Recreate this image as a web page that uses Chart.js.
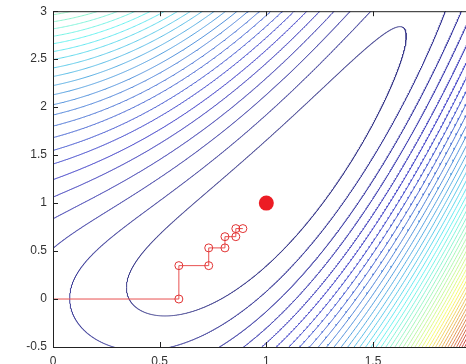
<!DOCTYPE html>
<html>
<head>
<meta charset="utf-8">
<script src="https://cdn.jsdelivr.net/npm/chart.js@4"></script>
<style>
  html, body { margin: 0; padding: 0; background: #fff; overflow: hidden; }
  #chart { display: block; margin-top: -2px; }
</style>
</head>
<body>
<canvas id="chart" width="490" height="366"></canvas>
<script>
// axis ticks
const xTicks = [0, 0.5, 1, 1.5, 2];
const yTicks = [-0.5, 0, 0.5, 1, 1.5, 2, 2.5, 3];

// contour levels of f(x,y) = (y - x^2)^2 + (1 - x)^2
const levels = [
  0.43, 0.85, 1.28, 1.70, 2.13, 2.55, 2.98, 3.40, 3.83, 4.25,
  4.68, 5.10, 5.53, 5.95, 6.38, 6.80, 7.23, 7.65, 8.08, 8.50,
  8.93, 9.35, 9.78, 10.20, 10.63, 11.05, 11.48, 11.90, 12.33, 12.75,
  13.18, 13.60, 14.03, 14.45, 14.88, 15.30, 15.73, 16.15, 16.58, 17.00,
  17.43, 17.85, 18.28, 18.70, 19.13, 19.55, 19.98, 20.40, 20.83
];
const levelMax = 21.25;

// coordinate descent path
const pathX = [0, 0.59, 0.59, 0.73, 0.73, 0.806, 0.806, 0.857, 0.857, 0.89];
const pathY = [0, 0, 0.348, 0.348, 0.533, 0.533, 0.65, 0.65, 0.734, 0.734];

// minimum
const minX = [1];
const minY = [1];

function clamp(v) {
  return Math.max(0, Math.min(1, v));
}

// jet colormap, washed out like the printed figure
function jet(t) {
  let r = clamp(1.5 - Math.abs(4 * t - 3)) * 255;
  let g = clamp(1.5 - Math.abs(4 * t - 2)) * 255;
  let b = clamp(1.5 - Math.abs(4 * t - 1)) * 255;
  const lum = 0.2126 * r + 0.7152 * g + 0.0722 * b;
  const s = 0.7;
  r = lum + s * (r - lum);
  g = lum + s * (g - lum);
  b = lum + s * (b - lum);
  const w = 0.22;
  r = r * (1 - w) + 255 * w;
  g = g * (1 - w) + 255 * w;
  b = b * (1 - w) + 255 * w;
  return `rgb(${Math.round(r)}, ${Math.round(g)}, ${Math.round(b)})`;
}

// level set f = c, walked around the closed curve
function contourPoints(c) {
  const r = Math.sqrt(c);
  const n = 3000;
  const pts = [];
  let gap = false;
  for (let i = 0; i <= n; i++) {
    const th = (2 * Math.PI * i) / n;
    const x = 1 - r * Math.cos(th);
    const y = x * x + r * Math.sin(th);
    if (x > -0.2 && x < 2.2 && y > -0.7 && y < 3.2) {
      pts.push({ x: x, y: y });
      gap = false;
    } else if (!gap) {
      pts.push({ x: null, y: null });
      gap = true;
    }
  }
  return pts;
}

const boxTicks = {
  id: "boxTicks",
  afterDraw(chart) {
    const { ctx, chartArea: a, scales } = chart;
    ctx.save();
    ctx.strokeStyle = "#222";
    ctx.lineWidth = 1;
    ctx.beginPath();
    ctx.rect(a.left + 0.5, a.top + 0.5, a.right - a.left, a.bottom - a.top);
    xTicks.forEach((v) => {
      const px = Math.round(scales.x.getPixelForValue(v)) + 0.5;
      ctx.moveTo(px, a.bottom);
      ctx.lineTo(px, a.bottom - 5);
      ctx.moveTo(px, a.top);
      ctx.lineTo(px, a.top + 5);
    });
    yTicks.forEach((v) => {
      const py = Math.round(scales.y.getPixelForValue(v)) + 0.5;
      ctx.moveTo(a.left, py);
      ctx.lineTo(a.left + 5, py);
      ctx.moveTo(a.right, py);
      ctx.lineTo(a.right - 5, py);
    });
    ctx.stroke();
    ctx.restore();
  },
};

const datasets = [
  {
    data: minX.map((x, i) => ({ x: x, y: minY[i] })),
    showLine: false,
    pointRadius: 7.5,
    pointBackgroundColor: "rgb(236, 28, 36)",
    pointBorderWidth: 0,
  },
  {
    data: pathX.map((x, i) => ({ x: x, y: pathY[i] })),
    showLine: true,
    borderColor: "rgb(232, 80, 80)",
    borderWidth: 1,
    pointRadius: pathX.map((x, i) => (i === 0 ? 0 : 4)),
    pointBorderColor: "rgb(225, 50, 50)",
    pointBackgroundColor: "rgba(255, 255, 255, 0)",
    pointBorderWidth: 1,
  },
];

levels.forEach((c) => {
  datasets.push({
    data: contourPoints(c),
    showLine: true,
    spanGaps: false,
    borderColor: jet(c / levelMax),
    borderWidth: 1,
    pointRadius: 0,
  });
});

const tickFont = { family: "Liberation Sans, Arial, sans-serif", size: 12 };

new Chart(document.getElementById("chart"), {
  type: "scatter",
  data: { datasets: datasets },
  options: {
    responsive: false,
    animation: false,
    events: [],
    layout: { padding: { left: 0, top: 7, right: 5, bottom: 0 } },
    plugins: {
      legend: { display: false },
      tooltip: { enabled: false },
    },
    scales: {
      x: {
        type: "linear",
        min: 0,
        max: 2,
        afterBuildTicks: (scale) => {
          scale.ticks = xTicks.map((v) => ({ value: v }));
        },
        afterFit: (scale) => {
          scale.height = 17;
        },
        grid: { display: false, drawTicks: false },
        border: { display: false },
        ticks: {
          padding: 7,
          color: "#333",
          font: tickFont,
          callback: (v) => String(v),
        },
      },
      y: {
        type: "linear",
        min: -0.5,
        max: 3,
        afterBuildTicks: (scale) => {
          scale.ticks = yTicks.map((v) => ({ value: v }));
        },
        afterFit: (scale) => {
          scale.width = 53;
        },
        grid: { display: false, drawTicks: false },
        border: { display: false },
        ticks: {
          padding: 6,
          color: "#333",
          font: tickFont,
          callback: (v) => String(v),
        },
      },
    },
  },
  plugins: [boxTicks],
});
</script>
</body>
</html>
